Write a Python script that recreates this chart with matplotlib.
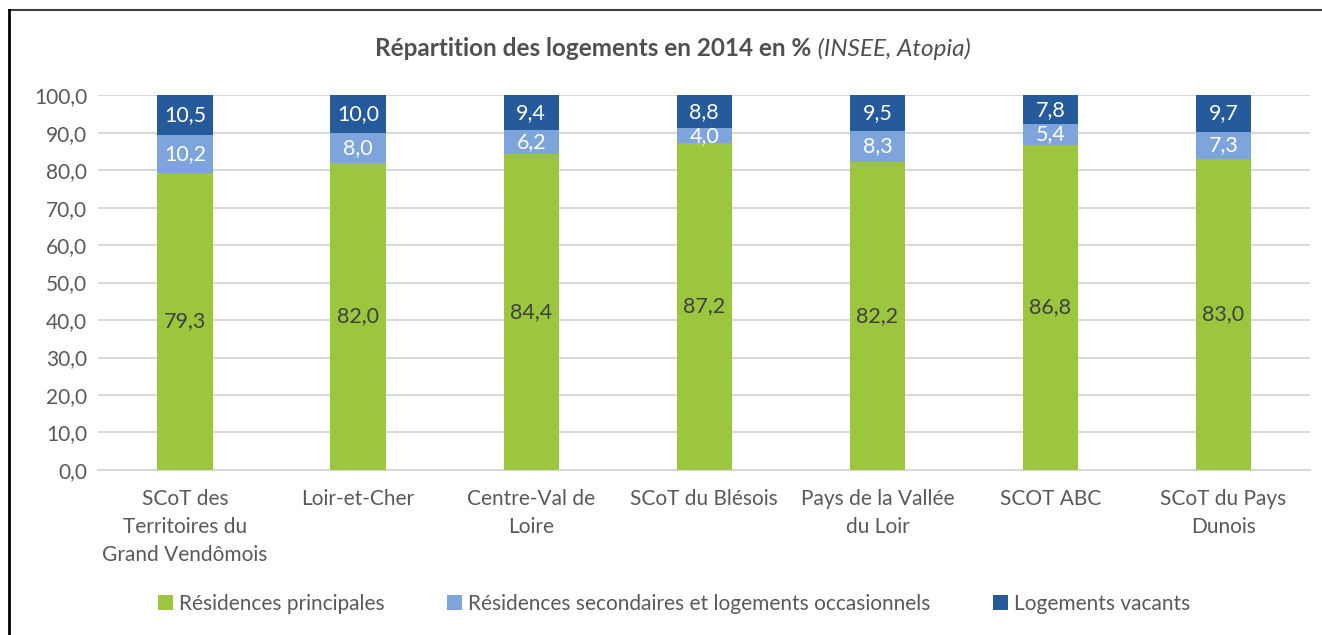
import matplotlib.pyplot as plt
import numpy as np
from matplotlib.lines import Line2D

plt.rcParams['font.family'] = ['Lato', 'DejaVu Sans']

categories = ["SCoT des\nTerritoires du\nGrand Vendômois", "Loir-et-Cher",
              "Centre-Val de\nLoire", "SCoT du Blésois", "Pays de la Vallée\ndu Loir",
              "SCOT ABC", "SCoT du Pays\nDunois"]
principales = [79.3, 82.0, 84.4, 87.2, 82.2, 86.8, 83.0]
secondaires = [10.2, 8.0, 6.2, 4.0, 8.3, 5.4, 7.3]
vacants = [10.5, 10.0, 9.4, 8.8, 9.5, 7.8, 9.7]
series_names = ["Résidences principales",
                "Résidences secondaires et logements occasionnels",
                "Logements vacants"]

colors = ['#9DC63F', '#7DA5DC', '#255A9B']
label_colors = ['#404040', 'white', 'white']
txt = '#595959'

fig = plt.figure(figsize=(13.22, 6.35), dpi=100)
ax = fig.add_axes([0.0745, 0.26, 0.9165, 0.59])

x = np.arange(len(categories))
bottom = np.zeros(len(categories))
for vals, col, lc, name in zip([principales, secondaires, vacants], colors, label_colors, series_names):
    vals = np.array(vals)
    ax.bar(x, vals, 0.32, bottom=bottom, color=col, label=name, zorder=3)
    for xi, b, v in zip(x, bottom, vals):
        ax.text(xi, b + v / 2, ('%.1f' % v).replace('.', ','), ha='center', va='center',
                color=lc, fontsize=15.5, zorder=4)
    bottom += vals

ax.set_xlim(-0.5, len(categories) - 0.5)
ax.set_ylim(0, 100)
ax.set_yticks(np.arange(0, 101, 10))
ax.set_yticklabels([('%.1f' % t).replace('.', ',') for t in np.arange(0, 101, 10)])
ax.set_xticks(x)
ax.set_xticklabels(categories, linespacing=1.5)
ax.tick_params(axis='both', length=0, labelsize=15, labelcolor=txt)
ax.tick_params(axis='x', pad=14)
ax.tick_params(axis='y', pad=8)
ax.grid(axis='y', color='#D9D9D9', linewidth=1.5, zorder=0)
for s in ['top', 'right', 'left']:
    ax.spines[s].set_visible(False)
ax.spines['bottom'].set_color('#D9D9D9')
ax.spines['bottom'].set_linewidth(1.5)

# title: bold part + italic source
t1 = fig.text(0.614, 0.924, "Répartition des logements en 2014 en %", ha='right', va='center',
              fontsize=17.5, fontweight='bold', color='#505050')
ax.annotate(" (INSEE, Atopia)", xy=(1, 0), xycoords=t1, va='bottom', ha='left',
            fontsize=17.5, fontstyle='italic', color='#505050')

fig.legend(loc='center', bbox_to_anchor=(0.51, 0.049), ncol=3, frameon=False,
           fontsize=15, labelcolor=txt, handlelength=0.7, handleheight=0.7,
           handletextpad=0.3, columnspacing=3.0)

# frame lines (top and left)
fig.add_artist(Line2D([9 / 1322, 1], [1 - 10 / 635, 1 - 10 / 635], color='#404040', linewidth=1.5))
fig.add_artist(Line2D([9 / 1322, 9 / 1322], [0, 1 - 10 / 635], color='black', linewidth=2))

fig.savefig('out.png', dpi=100)
